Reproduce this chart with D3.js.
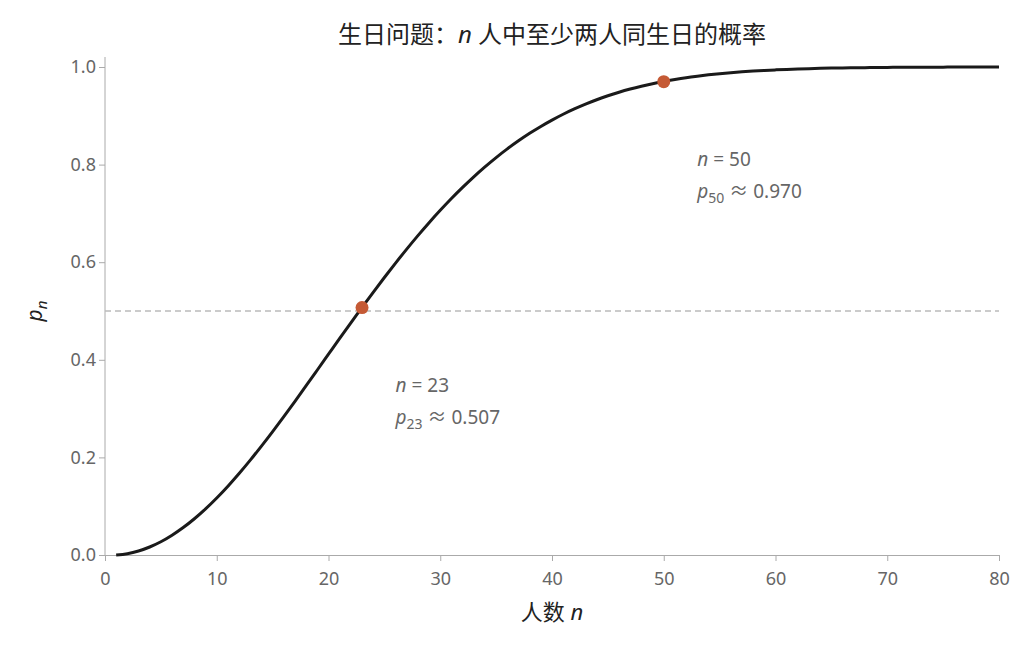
<!DOCTYPE html><html><head><meta charset="utf-8"><script src="https://cdn.jsdelivr.net/npm/d3@7"></script>
<style>body{margin:0;background:#fff}text{font-family:"Noto Sans","Noto Sans CJK SC",sans-serif}</style></head><body><svg id="c" width="1033" height="647"></svg><script>
const nValues=d3.range(1,81);
const pValues=[0,0.0027,0.0082,0.0164,0.0271,0.0405,0.0562,0.0743,0.0946,0.1169,0.1411,0.1670,0.1944,0.2231,0.2529,0.2836,0.3150,0.3469,0.3791,0.4114,0.4437,0.4757,0.5073,0.5383,0.5687,0.5982,0.6269,0.6545,0.6810,0.7063,0.7305,0.7533,0.7750,0.7953,0.8144,0.8322,0.8487,0.8641,0.8782,0.8912,0.9032,0.9140,0.9239,0.9329,0.9410,0.9483,0.9548,0.9606,0.9658,0.9704,0.9744,0.9780,0.9811,0.9839,0.9863,0.9883,0.9901,0.9917,0.9930,0.9941,0.9951,0.9959,0.9966,0.9972,0.9977,0.9981,0.9984,0.9987,0.9990,0.9992,0.9993,0.9995,0.9996,0.9996,0.9997,0.9998,0.9998,0.9999,0.9999,0.9999];
const highlightN=[23,50];
const highlightP=[0.507,0.970];
const xTicks=[0,10,20,30,40,50,60,70,80];
const yTicks=[0,0.2,0.4,0.6,0.8,1.0];
const svg=d3.select("#c");
const x=d3.scaleLinear().domain([0,80]).range([105,999]);
const y=d3.scaleLinear().domain([0,1]).range([555,67]);
const gx=svg.append("g").attr("transform","translate(0,555)").call(d3.axisBottom(x).tickValues(xTicks).tickSize(6).tickSizeOuter(0));
const gy=svg.append("g").attr("transform","translate(105,0)").call(d3.axisLeft(y).tickValues(yTicks).tickFormat(d3.format(".1f")).tickSize(6).tickSizeOuter(0));
gy.select(".domain").attr("d","M0,57V555");
[gx,gy].forEach(g=>{g.selectAll("path,line").attr("stroke","#aaa");g.selectAll("text").attr("fill","#666").attr("font-size",18);});
gx.selectAll("text").attr("dy","1.15em");
svg.append("line").attr("x1",x(0)).attr("x2",x(80)).attr("y1",y(0.5)).attr("y2",y(0.5)).attr("stroke","#bbb").attr("stroke-width",1.5).attr("stroke-dasharray","6,4");
svg.append("path").datum(nValues.map((n,i)=>[n,pValues[i]])).attr("fill","none").attr("stroke","#1a1a1a").attr("stroke-width",3)
 .attr("d",d3.line().x(d=>x(d[0])).y(d=>y(d[1])).curve(d3.curveMonotoneX));
svg.selectAll(".pt").data(highlightN).enter().append("circle").attr("cx",d=>x(d)).attr("cy",(d,i)=>y(highlightP[i])).attr("r",6.5).attr("fill","#c55a35");
function ann(n,p,tx,ty){
 const t1=svg.append("text").attr("x",tx).attr("y",ty).attr("fill","#666").attr("font-size",19);
 t1.append("tspan").attr("font-style","italic").text("n");t1.append("tspan").text(" = "+n);
 const t2=svg.append("text").attr("x",tx).attr("y",ty+32).attr("fill","#666").attr("font-size",19);
 t2.append("tspan").attr("font-style","italic").text("p");t2.append("tspan").attr("font-size",14).attr("dy",5).text(n);
 t2.append("tspan").attr("dy",-5).text(" ≈ "+p.toFixed(3));
}
ann(highlightN[0],highlightP[0],x(26),392);
ann(highlightN[1],highlightP[1],x(53),166);
const tt=svg.append("text").attr("x",552).attr("y",43).attr("text-anchor","middle").attr("font-size",24).attr("fill","#222");
tt.append("tspan").text("生日问题：");tt.append("tspan").attr("font-style","italic").text("n");tt.append("tspan").text(" 人中至少两人同生日的概率");
const xl=svg.append("text").attr("x",552).attr("y",620).attr("text-anchor","middle").attr("font-size",22).attr("fill","#222");
xl.append("tspan").text("人数 ");xl.append("tspan").attr("font-style","italic").text("n");
const yl=svg.append("text").attr("transform","translate(42,311) rotate(-90)").attr("text-anchor","middle").attr("font-size",21).attr("fill","#222");
yl.append("tspan").attr("font-style","italic").text("p");yl.append("tspan").attr("font-style","italic").attr("font-size",15).attr("dy",5).text("n");
</script></body></html>
